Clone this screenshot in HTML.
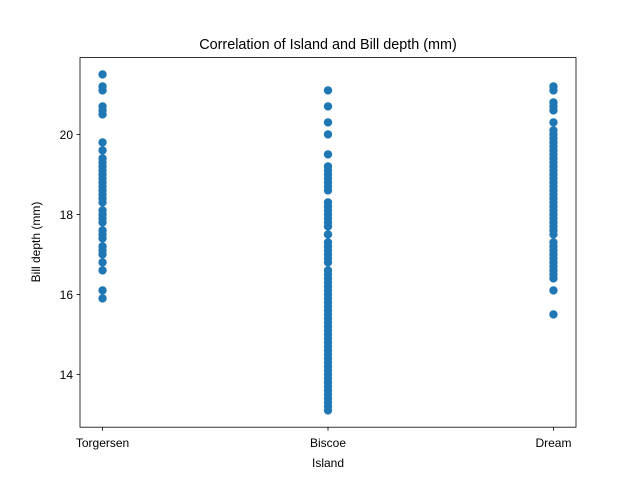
<!DOCTYPE html>
<html><head><meta charset="utf-8"><style>
body{margin:0;background:#fff}
svg text{font-family:"Liberation Sans",sans-serif;fill:#000}
</style></head><body>
<svg id="chart" width="640" height="480">
<rect width="640" height="480" fill="#fff"/>
<text x="328" y="49" font-size="14.4" text-anchor="middle">Correlation of Island and Bill depth (mm)</text>
<text x="328" y="467" font-size="12" text-anchor="middle">Island</text>
<text transform="translate(40,242) rotate(-90)" font-size="12" text-anchor="middle">Bill depth (mm)</text>
<g id="marks"></g>
<g id="axes"></g>
<rect x="80" y="57.6" width="496" height="369.6" fill="none" stroke="#000" stroke-width="0.8"/>
</svg>
<script>
const categories=["Torgersen","Biscoe","Dream"];
const torgersen=[15.9,16.1,16.6,16.8,17.0,17.1,17.2,17.4,17.5,17.6,17.8,17.9,18.0,18.1,18.3,18.4,18.5,18.6,18.7,18.8,18.9,19.0,19.1,19.2,19.3,19.4,19.6,19.8,20.5,20.6,20.7,21.1,21.2,21.5];
const biscoe=[13.1,13.2,13.3,13.4,13.5,13.6,13.7,13.8,13.9,14.0,14.1,14.2,14.3,14.4,14.5,14.6,14.7,14.8,14.9,15.0,15.1,15.2,15.3,15.4,15.5,15.6,15.7,15.8,15.9,16.0,16.1,16.2,16.3,16.4,16.5,16.6,16.8,16.9,17.0,17.1,17.2,17.3,17.5,17.7,17.8,17.9,18.0,18.1,18.2,18.3,18.6,18.7,18.8,18.9,19.0,19.1,19.2,19.5,20.0,20.3,20.7,21.1];
const dream=[15.5,16.1,16.4,16.5,16.6,16.7,16.8,16.9,17.0,17.1,17.2,17.3,17.5,17.6,17.7,17.8,17.9,18.0,18.1,18.2,18.3,18.4,18.5,18.6,18.7,18.8,18.9,19.0,19.1,19.2,19.3,19.4,19.5,19.6,19.7,19.8,19.9,20.0,20.1,20.3,20.6,20.7,20.8,21.1,21.2];
const yTicks=[14,16,18,20];
const series=[torgersen,biscoe,dream];
const NS="http://www.w3.org/2000/svg";
const X0=80,X1=576,Y0=427.2,Y1=57.6;
const xMin=-0.1,xMax=2.1,yMin=12.68,yMax=21.92;
function xs(i){return X0+(i-xMin)/(xMax-xMin)*(X1-X0);}
function ys(v){return Y0-(v-yMin)/(yMax-yMin)*(Y0-Y1);}
const marks=document.getElementById('marks'),axes=document.getElementById('axes');
series.forEach((arr,i)=>arr.forEach(v=>{
 const c=document.createElementNS(NS,'circle');
 c.setAttribute('cx',xs(i));c.setAttribute('cy',ys(v));c.setAttribute('r',4.2);c.setAttribute('fill','#1f77b4');
 
 
 marks.appendChild(c);
}));
categories.forEach((c,i)=>{
 const l=document.createElementNS(NS,'line');
 l.setAttribute('x1',xs(i));l.setAttribute('x2',xs(i));l.setAttribute('y1',Y0);l.setAttribute('y2',Y0+3.5);l.setAttribute('stroke','#000');l.setAttribute('stroke-width',0.8);
 
 
 axes.appendChild(l);
 const t=document.createElementNS(NS,'text');
 t.setAttribute('x',xs(i));t.setAttribute('y',Y0+20);t.setAttribute('font-size',12);t.setAttribute('text-anchor','middle');t.textContent=c;
 
 
 axes.appendChild(t);
});
yTicks.forEach(v=>{
 const l=document.createElementNS(NS,'line');
 l.setAttribute('x1',X0-3.5);l.setAttribute('x2',X0);l.setAttribute('y1',ys(v));l.setAttribute('y2',ys(v));l.setAttribute('stroke','#000');l.setAttribute('stroke-width',0.8);
 
 
 axes.appendChild(l);
 const t=document.createElementNS(NS,'text');
 t.setAttribute('x',X0-7);t.setAttribute('y',ys(v)+4.5);t.setAttribute('font-size',12);t.setAttribute('text-anchor','end');t.textContent=v;
 
 
 axes.appendChild(t);
});
</script>
</body></html>
